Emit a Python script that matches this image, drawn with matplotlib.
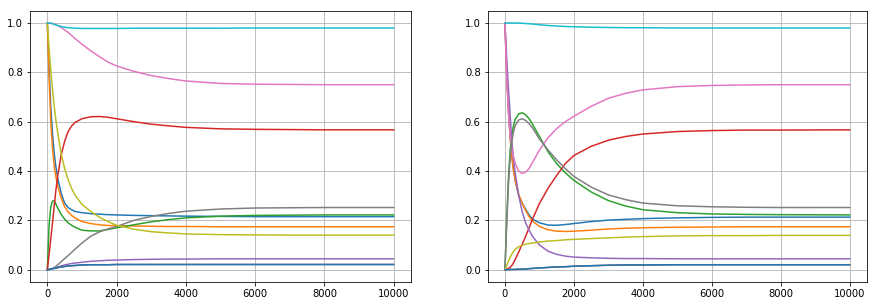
"""
two panels of concentration-like curves, 11 series each
"""

import matplotlib
matplotlib.use('Agg')
import matplotlib.pyplot as plt

# time grid shared by all series
t = [0, 50, 100, 150, 200, 250, 300, 400, 500, 600, 700, 800, 1000, 1250, 1500, 1750,
     2000, 2500, 3000, 3500, 4000, 5000, 6000, 7000, 8000, 10000]

# ---- left panel ----
left_c0 = [1.0, 0.82, 0.66, 0.55, 0.47, 0.415, 0.37, 0.31, 0.27, 0.252, 0.243, 0.236, 0.231, 0.227, 0.225, 0.223,
           0.222, 0.22, 0.219, 0.218, 0.217, 0.216, 0.215, 0.215, 0.215, 0.215]
left_c1 = [1.0, 0.78, 0.6, 0.49, 0.42, 0.375, 0.34, 0.29, 0.255, 0.234, 0.22, 0.21, 0.195, 0.187, 0.182, 0.179,
           0.178, 0.177, 0.176, 0.175, 0.175, 0.174, 0.174, 0.174, 0.174, 0.174]
left_c2 = [0.0, 0.18, 0.255, 0.278, 0.28, 0.265, 0.25, 0.224, 0.205, 0.19, 0.18, 0.172, 0.16, 0.157, 0.157, 0.163,
           0.17, 0.182, 0.194, 0.203, 0.21, 0.217, 0.22, 0.221, 0.222, 0.222]
left_c3 = [0.0, 0.06, 0.125, 0.19, 0.26, 0.325, 0.38, 0.465, 0.52, 0.56, 0.582, 0.597, 0.612, 0.62, 0.621, 0.618,
           0.612, 0.6, 0.59, 0.583, 0.577, 0.571, 0.569, 0.568, 0.567, 0.567]
left_c4 = [0.0, 0.001, 0.003, 0.005, 0.007, 0.009, 0.011, 0.015, 0.019, 0.022, 0.025, 0.027, 0.03, 0.034, 0.036, 0.038,
           0.039, 0.041, 0.042, 0.043, 0.043, 0.044, 0.044, 0.044, 0.044, 0.044]
left_c5 = [0.0, 0.001, 0.002, 0.004, 0.005, 0.006, 0.008, 0.011, 0.013, 0.015, 0.016, 0.017, 0.019, 0.02, 0.02, 0.02,
           0.021, 0.021, 0.021, 0.021, 0.021, 0.021, 0.021, 0.021, 0.021, 0.021]
left_c6 = [1.0, 1.0, 0.999, 0.998, 0.996, 0.993, 0.99, 0.982, 0.972, 0.962, 0.95, 0.937, 0.914, 0.888, 0.864, 0.842,
           0.826, 0.804, 0.787, 0.775, 0.765, 0.755, 0.752, 0.751, 0.75, 0.75]
left_c7 = [0.0, 0.0, 0.002, 0.004, 0.008, 0.014, 0.02, 0.032, 0.045, 0.057, 0.07, 0.083, 0.108, 0.135, 0.153, 0.165,
           0.175, 0.2, 0.216, 0.228, 0.237, 0.246, 0.25, 0.251, 0.252, 0.252]
left_c8 = [1.0, 0.9, 0.81, 0.73, 0.66, 0.605, 0.555, 0.47, 0.41, 0.365, 0.33, 0.302, 0.265, 0.236, 0.213, 0.195,
           0.18, 0.164, 0.154, 0.149, 0.145, 0.142, 0.141, 0.14, 0.14, 0.14]
left_c9 = [1.0, 1.0, 0.999, 0.997, 0.995, 0.992, 0.99, 0.986, 0.983, 0.981, 0.98, 0.979, 0.978, 0.978, 0.978, 0.978,
           0.978, 0.979, 0.979, 0.979, 0.979, 0.979, 0.98, 0.98, 0.98, 0.98]
left_c10 = left_c5

# ---- right panel ----
right_c0 = [1.0, 0.8, 0.65, 0.54, 0.46, 0.405, 0.36, 0.3, 0.27, 0.245, 0.222, 0.205, 0.19, 0.181, 0.18, 0.183,
            0.187, 0.195, 0.201, 0.204, 0.207, 0.21, 0.212, 0.213, 0.213, 0.213]
right_c1 = [1.0, 0.8, 0.65, 0.54, 0.455, 0.4, 0.36, 0.305, 0.268, 0.24, 0.215, 0.197, 0.175, 0.162, 0.156, 0.155,
            0.156, 0.16, 0.165, 0.168, 0.17, 0.172, 0.173, 0.174, 0.174, 0.174]
right_c2 = [0.0, 0.2, 0.37, 0.48, 0.55, 0.585, 0.61, 0.632, 0.636, 0.628, 0.612, 0.59, 0.54, 0.478, 0.43, 0.393,
            0.362, 0.315, 0.28, 0.258, 0.243, 0.231, 0.226, 0.224, 0.223, 0.222]
right_c3 = [0.0, 0.001, 0.005, 0.01, 0.017, 0.028, 0.042, 0.072, 0.103, 0.135, 0.17, 0.205, 0.268, 0.33, 0.382, 0.43,
            0.463, 0.5, 0.525, 0.54, 0.55, 0.56, 0.564, 0.566, 0.566, 0.567]
right_c4 = [1.0, 0.86, 0.74, 0.63, 0.52, 0.45, 0.39, 0.3, 0.235, 0.19, 0.16, 0.135, 0.1, 0.075, 0.062, 0.055,
            0.051, 0.048, 0.046, 0.045, 0.045, 0.044, 0.044, 0.044, 0.044, 0.044]
right_c5 = [0.0, 0.0, 0.0, 0.001, 0.001, 0.001, 0.001, 0.002, 0.002, 0.003, 0.004, 0.005, 0.007, 0.009, 0.011, 0.012,
            0.014, 0.016, 0.018, 0.019, 0.019, 0.02, 0.02, 0.02, 0.02, 0.02]
right_c6 = [1.0, 0.78, 0.64, 0.55, 0.49, 0.455, 0.43, 0.4, 0.39, 0.395, 0.41, 0.435, 0.485, 0.535, 0.572, 0.6,
            0.622, 0.662, 0.695, 0.715, 0.729, 0.742, 0.747, 0.749, 0.75, 0.75]
right_c7 = [0.0, 0.18, 0.34, 0.45, 0.52, 0.56, 0.585, 0.607, 0.612, 0.605, 0.592, 0.575, 0.53, 0.485, 0.445, 0.41,
            0.378, 0.335, 0.303, 0.284, 0.27, 0.259, 0.255, 0.253, 0.252, 0.252]
right_c8 = [0.0, 0.015, 0.034, 0.05, 0.063, 0.074, 0.083, 0.093, 0.099, 0.103, 0.106, 0.108, 0.112, 0.116, 0.118, 0.121,
            0.123, 0.126, 0.129, 0.132, 0.134, 0.137, 0.138, 0.138, 0.139, 0.139]
right_c9 = [1.0, 1.0, 1.0, 1.0, 1.0, 1.0, 1.0, 1.0, 0.999, 0.998, 0.997, 0.996, 0.993, 0.99, 0.988, 0.986,
            0.985, 0.983, 0.982, 0.981, 0.981, 0.98, 0.98, 0.98, 0.98, 0.98]
right_c10 = right_c5

left_series = [left_c0, left_c1, left_c2, left_c3, left_c4, left_c5,
               left_c6, left_c7, left_c8, left_c9, left_c10]
right_series = [right_c0, right_c1, right_c2, right_c3, right_c4, right_c5,
                right_c6, right_c7, right_c8, right_c9, right_c10]

fig = plt.figure(figsize=(877 / 72, 306 / 72), dpi=72)
ax1 = fig.add_axes([30 / 877, 24 / 306, 381 / 877, 271.3 / 306])
ax2 = fig.add_axes([487.7 / 877, 24 / 306, 379.3 / 877, 271.3 / 306])

for ax, series in ((ax1, left_series), (ax2, right_series)):
    for s in series:
        ax.plot(t, s, linewidth=1.5)
    ax.set_ylim(-0.05, 1.05)
    ax.set_xticks([0, 2000, 4000, 6000, 8000, 10000])
    ax.set_yticks([0.0, 0.2, 0.4, 0.6, 0.8, 1.0])
    ax.grid(True)

fig.savefig('out.png', dpi=72)
plt.close(fig)
